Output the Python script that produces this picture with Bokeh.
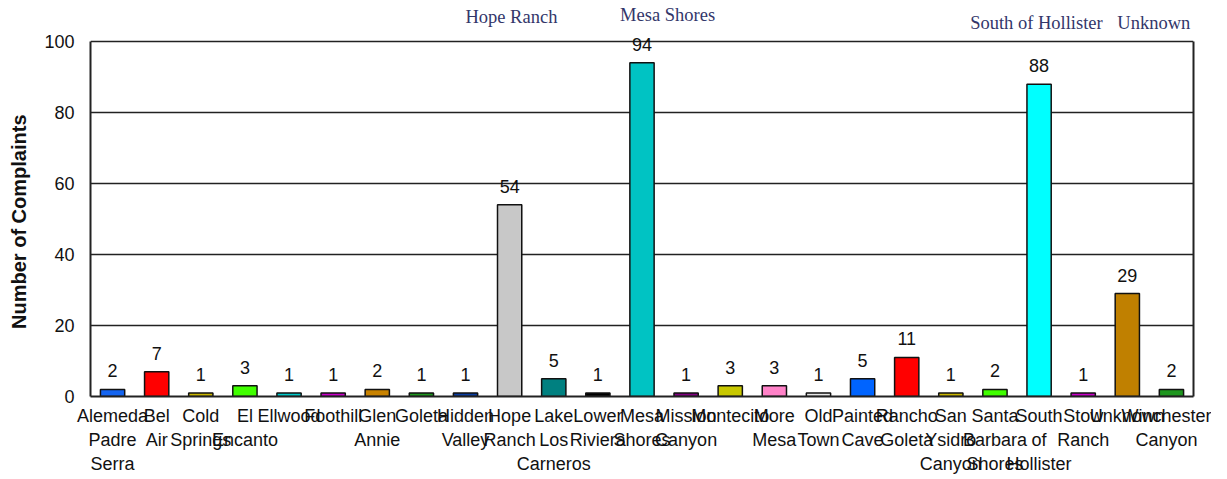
import numpy as np
from bokeh.plotting import figure
from bokeh.models import ColumnDataSource, FixedTicker, Range1d, Label, LinearAxis
from bokeh.core.properties import value
from bokeh.embed import file_html
from bokeh.resources import INLINE

neighborhoods = ["Alemeda Padre Serra", "Bel Air", "Cold Springs", "El Encanto", "Ellwood",
                 "Foothill", "Glen Annie", "Goleta", "Hidden Valley", "Hope Ranch",
                 "Lake Los Carneros", "Lower Riviera", "Mesa Shores", "Mission Canyon",
                 "Montecito", "More Mesa", "Old Town", "Painted Cave", "Rancho Goleta",
                 "San Ysidro Canyon", "Santa Barbara Shores", "South of Hollister",
                 "Stow Ranch", "Unknown", "Winchester Canyon"]
tick_labels = ["Alemeda\nPadre\nSerra", "Bel\nAir", "Cold\nSprings", "El\nEncanto", "Ellwood",
               "Foothill", "Glen\nAnnie", "Goleta", "Hidden\nValley", "Hope\nRanch",
               "Lake\nLos\nCarneros", "Lower\nRiviera", "Mesa\nShores", "Mission\nCanyon",
               "Montecito", "More\nMesa", "Old\nTown", "Painted\nCave", "Rancho\nGoleta",
               "San\nYsidro\nCanyon", "Santa\nBarbara\nShores", "South\nof\nHollister",
               "Stow\nRanch", "Unknown", "Winchester\nCanyon"]
complaints = [2, 7, 1, 3, 1, 1, 2, 1, 1, 54, 5, 1, 94, 1, 3, 3, 1, 5, 11, 1, 2, 88, 1, 29, 2]
colors = ["#1464f0", "#ff0000", "#c8b400", "#40ff00", "#00c8c8", "#c800c8", "#c88200", "#1e961e",
          "#0a3ca0", "#c8c8c8", "#008080", "#000000", "#00c3c3", "#800080", "#c8c800", "#ff82c8",
          "#e6e6e6", "#0064ff", "#ff0000", "#c8b400", "#40ff00", "#00ffff", "#c800c8", "#c08000",
          "#1e961e"]
y_ticks = [0, 20, 40, 60, 80, 100]
top_notes = ["Hope Ranch", "Mesa Shores", "South of Hollister", "Unknown"]
top_note_x = [9.04, 12.58, 20.94, 23.6]
top_note_y = [106.8, 107.6, 105.1, 105.1]

idx = list(range(len(neighborhoods)))
src = ColumnDataSource(dict(x=idx, top=complaints, color=colors,
                            lbl=[str(v) for v in complaints]))

p = figure(frame_width=1103, frame_height=394, output_backend="svg", toolbar_location=None,
           x_range=Range1d(-0.5, len(neighborhoods) - 0.5), y_range=Range1d(0, 111),
           min_border_left=90, min_border_right=18, min_border_top=2, min_border_bottom=10)

p.vbar(x="x", top="top", bottom=0, width=0.55, fill_color="color",
       line_color="#111111", line_width=1.5, source=src)
p.text(x="x", y="top", text="lbl", source=src, text_align="center", text_baseline="bottom",
       y_offset=-12, text_font=value("Liberation Sans"), text_font_size="18px", text_color="#111111")

p.outline_line_color = None
p.xgrid.grid_line_color = None
p.ygrid.grid_line_color = "#222222"
p.ygrid.grid_line_width = 1.6
p.ygrid.ticker = FixedTicker(ticks=y_ticks)

p.yaxis.ticker = FixedTicker(ticks=y_ticks)
p.yaxis.bounds = (0, 100)
p.yaxis.axis_label = "Number of Complaints" + "\u00a0" * 8
p.yaxis.axis_label_text_font = "Liberation Sans"
p.yaxis.axis_label_text_font_style = "bold"
p.yaxis.axis_label_text_font_size = "20px"
p.yaxis.axis_label_text_color = "#111111"
p.yaxis.axis_label_standoff = 11
p.yaxis.major_label_text_font = "Liberation Sans"
p.yaxis.major_label_text_font_size = "18px"
p.yaxis.major_label_text_color = "#111111"
p.yaxis.major_tick_line_color = None
p.yaxis.minor_tick_line_color = None
p.yaxis.axis_line_color = "#222222"
p.yaxis.axis_line_width = 2
p.yaxis.major_label_standoff = 10

right_axis = LinearAxis(ticker=FixedTicker(ticks=y_ticks), bounds=(0, 100),
                        major_label_text_font_size="0px", major_tick_line_color=None,
                        minor_tick_line_color=None, axis_line_color="#222222",
                        axis_line_width=2, major_label_standoff=0)
right_axis.major_label_overrides = {t: "" for t in y_ticks}
p.add_layout(right_axis, "right")

p.xaxis.ticker = FixedTicker(ticks=idx)
p.xaxis.major_label_overrides = {i: t for i, t in zip(idx, tick_labels)}
p.xaxis.major_label_text_font = "Liberation Sans"
p.xaxis.major_label_text_font_size = "18px"
p.xaxis.major_label_text_color = "#111111"
p.xaxis.major_label_text_line_height = 1.22
p.xaxis.major_tick_line_color = None
p.xaxis.minor_tick_line_color = None
p.xaxis.axis_line_color = "#222222"
p.xaxis.axis_line_width = 2
p.xaxis.major_label_standoff = 3

for t, xx, yy in zip(top_notes, top_note_x, top_note_y):
    p.add_layout(Label(x=xx, y=yy, text=t, text_align="center", text_baseline="middle",
                       text_font="Liberation Serif", text_font_size="18.5px",
                       text_color="#33366a"))

open("out.html", "w").write(file_html(p, INLINE))
